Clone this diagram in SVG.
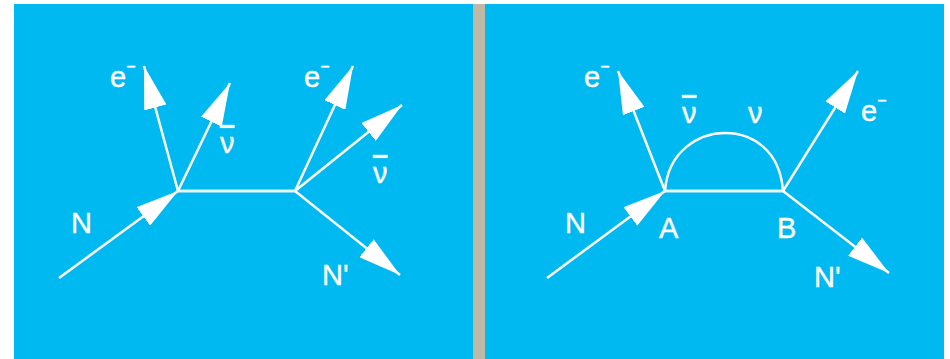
<svg xmlns="http://www.w3.org/2000/svg" width="950" height="359" viewBox="0 0 950 359">
<style>
.bg{fill:#00B9F0}
.ln{stroke:#fff;stroke-width:2.5;fill:none;marker-end:url(#ah)}
.pl{stroke:#fff;stroke-width:2.5;fill:none}
.mid{stroke:#E6F8FE;stroke-width:3;fill:none}
text{font-family:"Liberation Sans",Arial,sans-serif;font-size:29px;fill:#fff;stroke:#fff;stroke-width:0.4}
.sup{font-size:16px}
.bar{text-decoration:overline}
</style>
<defs>
<marker id="ah" markerUnits="userSpaceOnUse" markerWidth="43" markerHeight="23" refX="43" refY="11.5" orient="auto" viewBox="0 0 43 23">
<path d="M0,0 L43,11.5 L0,23 Z" fill="#fff"/>
</marker>
</defs>
<rect x="0" y="0" width="950" height="359" fill="#fff"/>
<rect class="bg" x="14" y="4" width="459" height="355"/>
<rect x="473" y="4" width="12" height="355" fill="#BDB9A4"/>
<rect class="bg" x="485" y="4" width="459" height="355"/>
<g id="connectors">
<line class="mid" x1="178" y1="191" x2="295" y2="191"/>
<line class="ln" x1="59" y1="278" x2="178" y2="191"/>
<line class="ln" x1="178" y1="191" x2="144" y2="66"/>
<line class="ln" x1="178" y1="191" x2="230" y2="83"/>
<line class="ln" x1="295" y1="191" x2="353" y2="66"/>
<line class="ln" x1="295" y1="191" x2="402" y2="105"/>
<line class="ln" x1="295" y1="191" x2="400" y2="275"/>
<line class="mid" x1="665" y1="191" x2="783" y2="191"/>
<path class="pl" d="M665,191 C668,150 700,133 725,133 C752,133 780,150 783,191"/>
<line class="ln" x1="547" y1="278" x2="665" y2="191"/>
<line class="ln" x1="665" y1="191" x2="618" y2="71"/>
<line class="ln" x1="783" y1="191" x2="858" y2="71"/>
<line class="ln" x1="783" y1="191" x2="889" y2="273"/>
</g>
<g id="left-N"><text x="71" y="233">N</text></g>
<g id="left-e1"><text x="110" y="87">e<tspan class="sup" dy="-15">−</tspan></text></g>
<g id="left-nubar1"><text class="bar" x="220" y="153">ν</text></g>
<g id="left-e2"><text x="304" y="87">e<tspan class="sup" dy="-15">−</tspan></text></g>
<g id="left-nubar2"><text class="bar" x="373" y="183">ν</text></g>
<g id="left-Nprime"><text x="322" y="285">N'</text></g>
<g id="right-N"><text x="565" y="233">N</text></g>
<g id="right-A"><text x="659" y="238">A</text></g>
<g id="right-B"><text x="777" y="238">B</text></g>
<g id="right-e1"><text x="584" y="87">e<tspan class="sup" dy="-15">−</tspan></text></g>
<g id="right-nubar"><text class="bar" x="682" y="123">ν</text></g>
<g id="right-nu"><text x="748" y="123">ν</text></g>
<g id="right-e2"><text x="861" y="121">e<tspan class="sup" dy="-15">−</tspan></text></g>
<g id="right-Nprime"><text x="814" y="287">N'</text></g>
</svg>
